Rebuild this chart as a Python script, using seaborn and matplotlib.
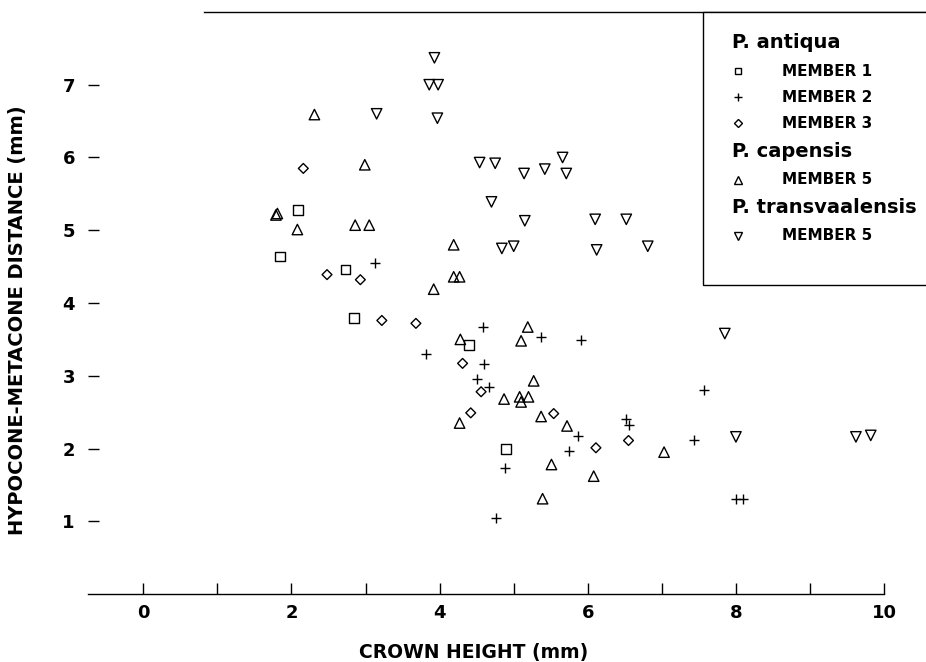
import matplotlib
matplotlib.use("Agg")
import matplotlib.pyplot as plt
from matplotlib.lines import Line2D
import seaborn as sns

# P. antiqua, Member 1 (squares)
member1_x = [2.09, 1.85, 2.73, 2.84, 4.40, 4.90]
member1_y = [5.28, 4.64, 4.46, 3.79, 3.42, 1.99]

# P. antiqua, Member 2 (plus)
member2_x = [3.13, 4.59, 3.82, 4.60, 4.50, 4.67, 5.37, 5.91, 5.87, 6.52,
             6.56, 7.43, 5.74, 4.88, 4.76, 7.57, 8.00, 8.10]
member2_y = [4.55, 3.67, 3.30, 3.16, 2.95, 2.85, 3.53, 3.49, 2.17, 2.41,
             2.32, 2.12, 1.97, 1.73, 1.04, 2.81, 1.30, 1.30]

# P. antiqua, Member 3 (diamonds)
member3_x = [2.16, 2.48, 2.93, 3.22, 3.68, 4.31, 4.56, 4.42, 5.54, 6.55, 6.11]
member3_y = [5.85, 4.39, 4.32, 3.76, 3.72, 3.17, 2.78, 2.49, 2.48, 2.11, 2.01]

# P. capensis, Member 5 (triangles up)
capensis_x = [2.31, 2.99, 1.79, 1.81, 2.08, 2.86, 3.05, 4.19, 4.19, 4.27,
              3.92, 4.28, 5.19, 5.10, 5.27, 4.87, 5.08, 5.20, 5.10, 4.27,
              5.37, 5.72, 7.03, 5.51, 6.08, 5.39]
capensis_y = [6.59, 5.90, 5.21, 5.23, 5.01, 5.07, 5.07, 4.80, 4.36, 4.36,
              4.19, 3.50, 3.67, 3.48, 2.93, 2.68, 2.71, 2.71, 2.64, 2.35,
              2.44, 2.31, 1.95, 1.78, 1.62, 1.31]

# P. transvaalensis, Member 5 (triangles down)
transvaal_x = [3.93, 3.86, 3.98, 3.15, 3.97, 4.54, 4.75, 5.14, 5.42, 5.66,
               5.71, 4.70, 5.15, 6.10, 6.52, 4.84, 5.00, 6.12, 6.81, 7.85,
               8.00, 9.62, 9.82]
transvaal_y = [7.37, 7.00, 7.00, 6.60, 6.54, 5.93, 5.92, 5.78, 5.84, 6.00,
               5.78, 5.39, 5.13, 5.15, 5.15, 4.75, 4.78, 4.73, 4.78, 3.58,
               2.16, 2.16, 2.18]

x_major = [0, 2, 4, 6, 8, 10]
x_minor = [1, 3, 5, 7, 9]
y_major = [1, 2, 3, 4, 5, 6, 7]

sns.set_theme(style="white")
plt.rcParams["font.family"] = ["DejaVu Sans"]
plt.rcParams["font.weight"] = "bold"
for key in ["text.color", "axes.labelcolor", "xtick.color", "ytick.color"]:
    plt.rcParams[key] = "black"

fig = plt.figure(figsize=(9.26, 6.62), dpi=100)
ax = fig.add_axes([0.0950, 0.1027, 0.9050, 0.8792])

open_kw = dict(facecolor="none", edgecolor="black", linewidth=1.0, ax=ax, legend=False)
sns.scatterplot(x=member1_x, y=member1_y, marker="s", s=7.0 ** 2, **open_kw)
sns.scatterplot(x=member2_x, y=member2_y, marker="+", s=7.5 ** 2, color="black",
                linewidth=1.0, ax=ax, legend=False)
sns.scatterplot(x=member3_x, y=member3_y, marker="D", s=5.0 ** 2, **open_kw)
sns.scatterplot(x=capensis_x, y=capensis_y, marker="^", s=7.5 ** 2, **open_kw)
sns.scatterplot(x=transvaal_x, y=transvaal_y, marker="v", s=7.5 ** 2, **open_kw)

ax.set_xlim(-0.747, 10.566)
ax.set_ylim(0, 8.0)
ax.set_xticks(x_major)
ax.set_xticks(x_minor, minor=True)
ax.set_yticks(y_major)

for side in ["left", "right"]:
    ax.spines[side].set_visible(False)
for side in ["top", "bottom"]:
    ax.spines[side].set_color("black")
    ax.spines[side].set_linewidth(1.0)
ax.spines["bottom"].set_bounds(-0.747, 10)
ax.spines["top"].set_bounds(0.82, 10.566)

ax.tick_params(axis="both", which="both", direction="in", length=8, width=1,
               color="black", labelcolor="black", labelsize=13, left=True, bottom=True)
ax.tick_params(axis="y", pad=9.4)
ax.tick_params(axis="x", pad=7)

ax.set_xlabel("CROWN HEIGHT (mm)", fontsize=13.5, fontweight="bold", color="black")
ax.set_ylabel("HYPOCONE-METACONE DISTANCE (mm)", fontsize=14, fontweight="bold",
              color="black")
ax.xaxis.set_label_coords(0.4606, -0.0842)
ax.yaxis.set_label_coords(-0.0728, 0.471)

# legend with species headers
blank = Line2D([], [], color="none")
leg_kw = dict(linestyle="none", markerfacecolor="none", markeredgecolor="black",
              markeredgewidth=1.0, color="black")
handles = [blank,
           Line2D([], [], marker="s", markersize=5, **leg_kw),
           Line2D([], [], marker="+", markersize=6, **leg_kw),
           Line2D([], [], marker="D", markersize=3.8, **leg_kw),
           blank,
           Line2D([], [], marker="^", markersize=5.5, **leg_kw),
           blank,
           Line2D([], [], marker="v", markersize=5.5, **leg_kw),
           blank]
labels = ["P. antiqua", "MEMBER 1", "MEMBER 2", "MEMBER 3", "P. capensis",
          "MEMBER 5", "P. transvaalensis", "MEMBER 5", " "]
leg = ax.legend(handles, labels, loc="upper left", bbox_to_anchor=(0.7339, 1.0),
                borderaxespad=0, frameon=True, fancybox=False, framealpha=1,
                edgecolor="black", prop={"weight": "bold", "size": 11},
                handlelength=1.75, handleheight=0.3, handletextpad=2.02,
                labelspacing=0.73, borderpad=1.4)
leg.get_frame().set_linewidth(1.0)
for t in leg.get_texts():
    t.set_color("black")
for i in (0, 4, 6):
    t = leg.get_texts()[i]
    t.set_fontsize(14)
    t.set_position((-50, 0))
leg.get_texts()[8].set_fontsize(1)

fig.savefig("out.png", dpi=100)
